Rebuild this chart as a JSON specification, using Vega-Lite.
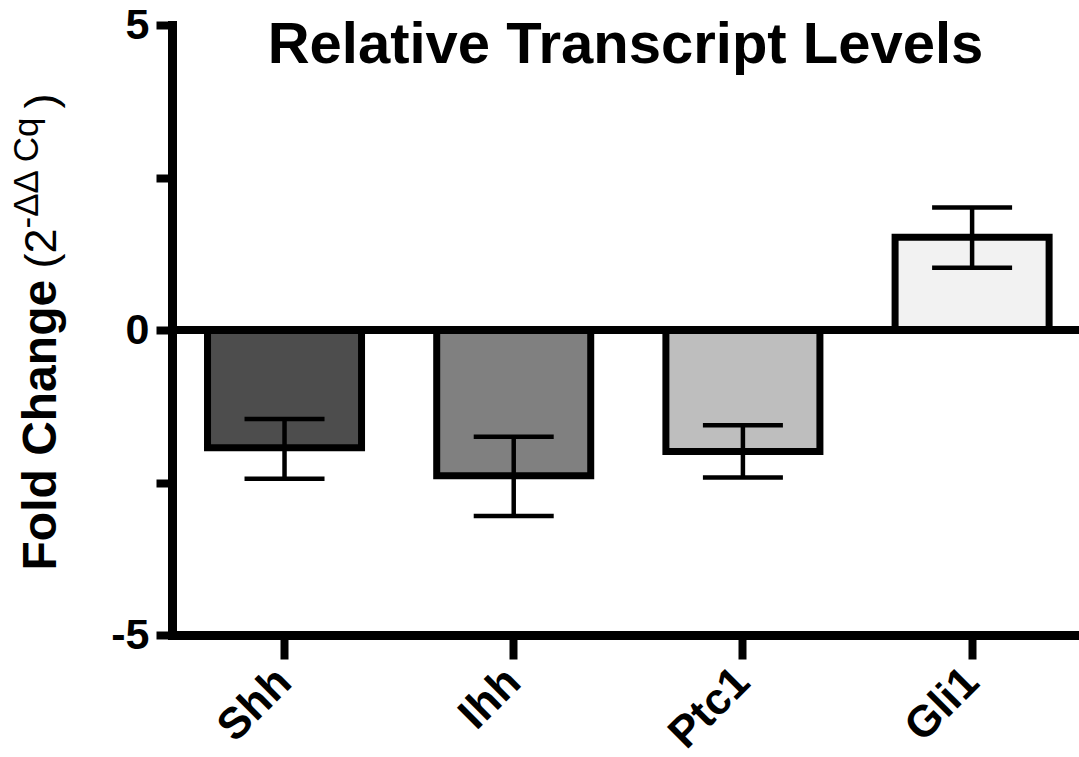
{
  "$schema": "https://vega.github.io/schema/vega-lite/v6.json",
  "width": 907,
  "height": 610,
  "autosize": {"type": "none"},
  "padding": {"left": 172, "top": 25, "right": 0, "bottom": 122},
  "background": "white",
  "config": {
    "view": {"stroke": null},
    "font": "Liberation Sans",
    "axis": {"labelFont": "Liberation Sans", "titleFont": "Liberation Sans", "labelColor": "black", "titleColor": "black", "domainColor": "black", "tickColor": "black", "grid": false}
  },
  "title": {
    "text": "Relative Transcript Levels",
    "fontSize": 58,
    "fontWeight": "bold",
    "font": "Liberation Sans",
    "color": "black",
    "anchor": "middle",
    "frame": "group",
    "baseline": "alphabetic",
    "offset": 0,
    "dy": 117
  },
  "data": {
    "values": [
      {"gene": "Shh", "mean": -1.93, "lo": -2.44, "hi": -1.46},
      {"gene": "Ihh", "mean": -2.39, "lo": -3.05, "hi": -1.75},
      {"gene": "Ptc1", "mean": -1.99, "lo": -2.42, "hi": -1.56},
      {"gene": "Gli1", "mean": 1.52, "lo": 1.02, "hi": 2.01}
    ]
  },
  "layer": [
    {
      "layer": [
        {
          "mark": {"type": "bar", "stroke": "black", "strokeWidth": 7, "strokeJoin": "miter"},
          "encoding": {
            "x": {
              "field": "gene", "type": "nominal", "sort": ["Shh", "Ihh", "Ptc1", "Gli1"],
              "scale": {"paddingInner": 0.328, "paddingOuter": 0.1427, "align": 0.543},
              "axis": {
                "labelAngle": -45, "labelFontSize": 44, "labelFontWeight": "bold", "labelPadding": 16,
                "labelAlign": "right", "labelBaseline": "middle",
                "domainWidth": 9, "domainCap": "square", "tickSize": 24, "tickWidth": 8,
                "title": "(2", "titleFontSize": 45, "titleFontWeight": "normal",
                "titleAngle": -90, "titleAlign": "left", "titleBaseline": "alphabetic",
                "titleX": -117, "titleY": -367
              }
            },
            "y": {
              "field": "mean", "type": "quantitative",
              "scale": {"domain": [-5, 5], "nice": false},
              "axis": {
                "values": [-5, -2.5, 0, 2.5, 5],
                "labelExpr": "datum.value == 5 ? '5' : datum.value == 0 ? '0' : datum.value == -5 ? '-5' : ''",
                "labelFontSize": 43, "labelFontWeight": "bold", "labelPadding": 7,
                "domainWidth": 9, "domainCap": "square", "tickSize": 16, "tickWidth": 8,
                "title": "Fold Change", "titleFontSize": 48, "titleFontWeight": "bold",
                "titleAngle": -90, "titleAlign": "left", "titleBaseline": "alphabetic",
                "titleX": -117, "titleY": 545
              }
            },
            "color": {
              "field": "gene", "type": "nominal",
              "scale": {"domain": ["Shh", "Ihh", "Ptc1", "Gli1"], "range": ["#4d4d4d", "#808080", "#bebebe", "#f2f2f2"]},
              "legend": null
            }
          }
        },
        {
          "mark": {"type": "rule", "color": "black", "strokeWidth": 8},
          "encoding": {"y": {"datum": 0}}
        },
        {
          "mark": {"type": "rule", "color": "black", "strokeWidth": 4.5},
          "encoding": {
            "x": {"field": "gene", "type": "nominal", "sort": ["Shh", "Ihh", "Ptc1", "Gli1"]},
            "y": {"field": "lo", "type": "quantitative"},
            "y2": {"field": "hi"}
          }
        },
        {
          "mark": {"type": "tick", "color": "black", "size": 80, "thickness": 4.5, "opacity": 1},
          "encoding": {
            "x": {"field": "gene", "type": "nominal", "sort": ["Shh", "Ihh", "Ptc1", "Gli1"]},
            "y": {"field": "lo", "type": "quantitative"}
          }
        }
      ]
    },
    {
      "mark": {"type": "tick", "color": "black", "size": 80, "thickness": 4.5, "opacity": 1},
      "encoding": {
        "x": {
          "field": "gene", "type": "nominal", "sort": ["Shh", "Ihh", "Ptc1", "Gli1"],
          "scale": {"paddingInner": 0.328, "paddingOuter": 0.1427, "align": 0.543},
          "axis": {
            "orient": "top", "domain": false, "ticks": false, "labels": false,
            "title": ")", "titleFontSize": 45, "titleFontWeight": "normal",
            "titleAngle": -90, "titleAlign": "left", "titleBaseline": "alphabetic",
            "titleX": -117, "titleY": 83
          }
        },
        "y": {
          "field": "hi", "type": "quantitative",
          "scale": {"domain": [-5, 5], "nice": false},
          "axis": {
            "orient": "right", "domain": false, "ticks": false, "labels": false,
            "title": "-ΔΔ Cq", "titleFontSize": 35, "titleFontWeight": "normal",
            "titleAngle": -90, "titleAlign": "left", "titleBaseline": "alphabetic",
            "titleX": -1042, "titleY": 203
          }
        }
      }
    }
  ],
  "resolve": {"scale": {"x": "independent", "y": "independent"}}
}
